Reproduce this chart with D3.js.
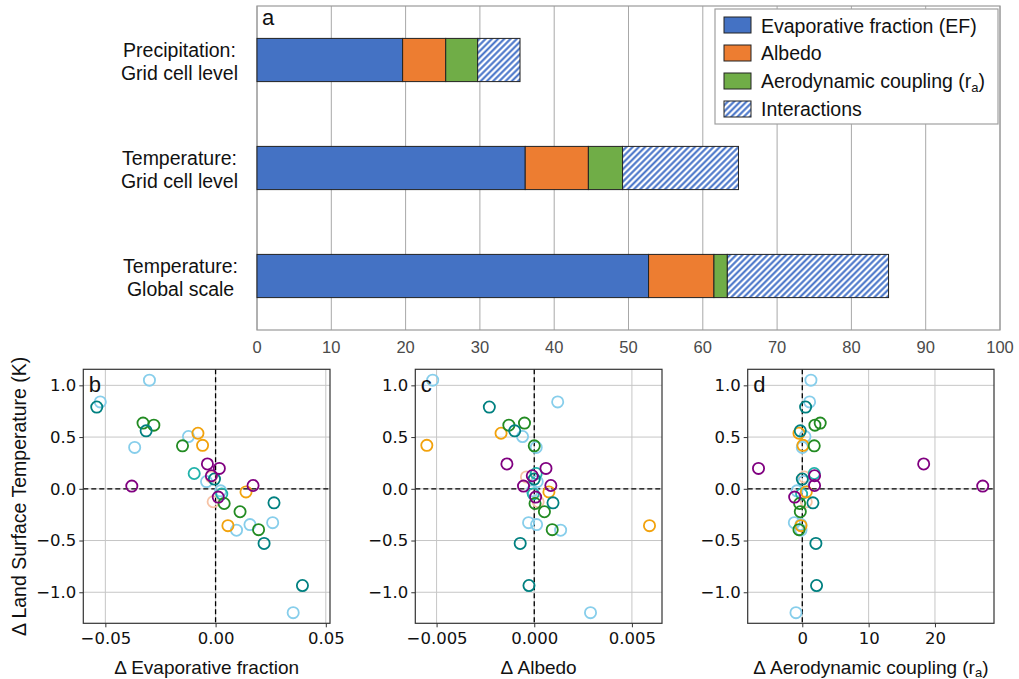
<!DOCTYPE html>
<html>
<head>
<meta charset="utf-8">
<script src="https://cdn.jsdelivr.net/npm/d3@7"></script>
<style>
  body { margin: 0; background: #fff; }
  svg { display: block; }
</style>
</head>
<body>
<svg id="fig" width="1019" height="679"></svg>
<script>
// ---- Panel a: contribution (%) of each driver, one value per bar row ----
const barCategories = [
  ["Precipitation:", "Grid cell level"],
  ["Temperature:", "Grid cell level"],
  ["Temperature:", "Global scale"]
];
const driverLabels = ["Evaporative fraction (EF)", "Albedo", "Aerodynamic coupling (r", "Interactions"];
const efShare = [19.6, 36.1, 52.7];
const albedoShare = [5.8, 8.5, 8.8];
const raShare = [4.3, 4.6, 1.8];
const interactionShare = [5.7, 15.6, 21.7];
const barTicks = [0, 10, 20, 30, 40, 50, 60, 70, 80, 90, 100];

// ---- Panels b-d: one circle per simulation pair ----
// group: 0 sky blue, 1 teal, 2 light sea green, 3 green, 4 orange, 5 purple, 6 peach
const pointGroup = [6, 6,
  0, 0, 0, 0, 0, 0, 0, 0, 0, 0,
  2, 2,
  4, 4, 4, 4,
  3, 3, 3, 3, 3, 3,
  1, 1, 1, 1, 1, 1,
  5, 5, 5, 5, 5, 5];
const dLST = [-0.125, 0.115,
  1.05, 0.84, 0.505, 0.40, 0.07, -0.02, -0.40, -0.346, -0.327, -1.197,
  0.148, -0.05,
  0.537, 0.42, -0.03, -0.356,
  0.635, 0.615, 0.415, -0.142, -0.222, -0.395,
  0.79, 0.56, 0.094, -0.136, -0.528, -0.935,
  0.24, 0.197, 0.126, 0.026, 0.032, -0.08];
const dEF = [-0.0011, -0.0020,
  -0.0300, -0.0523, -0.0123, -0.0367, -0.0041, 0.0023, 0.0095, 0.0156, 0.0259, 0.0352,
  -0.0097, 0.0028,
  -0.0080, -0.0059, 0.0138, 0.0056,
  -0.0329, -0.0280, -0.0150, 0.0039, 0.0111, 0.0195,
  -0.0539, -0.0315, -0.0005, 0.0265, 0.0220, 0.0394,
  -0.0037, 0.0017, -0.0019, -0.0380, 0.0170, 0.0012];
const dAlbedo = [0.0002, -0.0004,
  -0.0052, 0.0012, -0.0006, 0.0001, 0.00015, -0.0001, 0.00135, 0.00012, -0.00029, 0.00288,
  0.0001, -0.00005,
  -0.0017, -0.0055, 0.00075, 0.0059,
  -0.0005, -0.0013, 0.0000, 0.00004, 0.00052, 0.00092,
  -0.0023, -0.0010, 0.0000, 0.00096, -0.00072, -0.00027,
  -0.0014, 0.0006, -0.0001, -0.00055, 0.00085, 0.00007];
const dRa = [0.6, 0.3,
  1.3, 1.1, 0.4, 0.0, 0.2, -0.8, -0.2, -0.2, -1.2, -0.95,
  1.8, -0.1,
  -0.5, 0.1, 0.6, -0.2,
  2.7, 1.9, 1.8, -0.4, -0.3, -0.5,
  0.5, -0.3, 0.0, 1.6, 2.05, 2.15,
  18.3, -6.6, 1.85, 27.2, 1.85, -1.15];
const groupColors = ["#87CEEB", "#008080", "#20B2AA", "#228B22", "#F2A20C", "#800080", "#F6C3A6"];

const lstLimits = [-1.30, 1.155];
const lstTicks = [-1.0, -0.5, 0.0, 0.5, 1.0];
const efLimits = [-0.0600, 0.0519];
const efTicks = [-0.05, 0.0, 0.05];
const albedoLimits = [-0.00609, 0.00654];
const albedoTicks = [-0.005, 0.0, 0.005];
const raLimits = [-8.23, 28.9];
const raTicks = [0, 10, 20];

const SANS = "'Liberation Sans', Arial, Helvetica, sans-serif";
const DEJAVU = "'DejaVu Sans', sans-serif";
const svg = d3.select("#fig");

// ---------------- Panel a ----------------
const barColors = ["#4472C4", "#ED7D31", "#70AD47"];
const defs = svg.append("defs");
const hatchStep = 4.4;
const hatch = defs.append("pattern")
  .attr("id", "hatch").attr("patternUnits", "userSpaceOnUse")
  .attr("width", hatchStep).attr("height", hatchStep)
  .attr("patternTransform", "rotate(45)");
hatch.append("rect").attr("width", hatchStep).attr("height", hatchStep).attr("fill", "#fff");
hatch.append("line").attr("x1", 1.3).attr("x2", 1.3).attr("y1", 0).attr("y2", hatchStep)
  .attr("stroke", "#3F6EC6").attr("stroke-width", 2);

const ax = { left: 257, right: 1000, top: 6, bottom: 330 };
const xBar = d3.scaleLinear().domain([0, 100]).range([ax.left, ax.right]);
const yBar = d3.scaleBand().domain(d3.range(barCategories.length))
  .range([ax.top, ax.bottom]).paddingInner(0.6).paddingOuter(0.3);

const gA = svg.append("g");
// vertical grid
gA.selectAll("line.grid").data(barTicks).join("line")
  .attr("x1", d => xBar(d)).attr("x2", d => xBar(d))
  .attr("y1", ax.top).attr("y2", ax.bottom)
  .attr("stroke", "#a8a8a8").attr("stroke-width", 1);
// frame
gA.append("rect").attr("x", ax.left).attr("y", ax.top)
  .attr("width", ax.right - ax.left).attr("height", ax.bottom - ax.top)
  .attr("fill", "none").attr("stroke", "#9a9a9a").attr("stroke-width", 1.2);

// stacked segments
const stackRows = barCategories.map((c, i) => ({
  i, parts: [efShare[i], albedoShare[i], raShare[i], interactionShare[i]]
}));
stackRows.forEach(row => {
  let acc = 0;
  row.parts.forEach((v, k) => {
    gA.append("rect")
      .attr("x", xBar(acc)).attr("y", yBar(row.i))
      .attr("width", xBar(acc + v) - xBar(acc)).attr("height", yBar.bandwidth())
      .attr("fill", k < 3 ? barColors[k] : "url(#hatch)")
      .attr("stroke", "#222").attr("stroke-width", 1);
    acc += v;
  });
});

// tick labels
gA.selectAll("text.xt").data(barTicks).join("text")
  .attr("x", d => xBar(d)).attr("y", 352.5)
  .attr("text-anchor", "middle").attr("font-family", SANS).attr("font-size", 16.5)
  .attr("fill", "#4a4a4a").text(d => d);

// category labels (two centred lines, block right-aligned at the axis)
barCategories.forEach((lines, i) => {
  const cy = yBar(i) + yBar.bandwidth() / 2;
  const g = gA.append("g");
  const ts = lines.map((t, j) => g.append("text")
    .attr("y", cy - 3 + j * 23)
    .attr("font-family", SANS).attr("font-size", 19.5).attr("fill", "#111")
    .attr("text-anchor", "middle").text(t));
  const w = d3.max(ts, t => t.node().getComputedTextLength());
  ts.forEach(t => t.attr("x", 238 - w / 2));
});

gA.append("text").attr("x", 262).attr("y", 25).attr("font-family", SANS)
  .attr("font-size", 22).attr("fill", "#111").text("a");

// legend
const lg = gA.append("g");
lg.append("rect").attr("x", 715).attr("y", 9).attr("width", 283).attr("height", 115)
  .attr("fill", "#fff").attr("stroke", "#a0a0a0").attr("stroke-width", 1.2);
driverLabels.forEach((lab, k) => {
  const top = 17 + k * 28;
  lg.append("rect").attr("x", 724).attr("y", top).attr("width", 27).attr("height", 16)
    .attr("fill", k < 3 ? barColors[k] : "url(#hatch)")
    .attr("stroke", "#222").attr("stroke-width", 1);
  const t = lg.append("text").attr("x", 761).attr("y", top + 8 + 7 - (k === 0 ? -1 : 0))
    .attr("font-family", SANS).attr("font-size", 19.5).attr("fill", "#111").text(lab);
  if (k === 2) {
    t.append("tspan").attr("font-size", 13).attr("dy", 4).text("a");
    t.append("tspan").attr("dy", -4).text(")");
  }
});

// ---------------- Panels b-d ----------------
const sTop = 369.3, sBottom = 623.3;
const yS = d3.scaleLinear().domain(lstLimits).range([sBottom, sTop]);

const panels = [
  { left: 83.3, right: 330, limits: efLimits, ticks: efTicks, fmt: d3.format(".2f"),
    values: dEF, title: ["Δ Evaporative fraction"], letter: "b" },
  { left: 415.3, right: 662, limits: albedoLimits, ticks: albedoTicks, fmt: d3.format(".3f"),
    values: dAlbedo, title: ["Δ Albedo"], letter: "c" },
  { left: 747.7, right: 994, limits: raLimits, ticks: raTicks, fmt: d3.format("d"),
    values: dRa, title: ["Δ Aerodynamic coupling (r", "a", ")"], letter: "d" }
];

panels.forEach(p => {
  const xS = d3.scaleLinear().domain(p.limits).range([p.left, p.right]);
  const g = svg.append("g");
  // grid
  g.selectAll("line.gx").data(p.ticks).join("line")
    .attr("x1", d => xS(d)).attr("x2", d => xS(d)).attr("y1", sTop).attr("y2", sBottom)
    .attr("stroke", "#c6c6c6").attr("stroke-width", 1);
  g.selectAll("line.gy").data(lstTicks).join("line")
    .attr("x1", p.left).attr("x2", p.right).attr("y1", d => yS(d)).attr("y2", d => yS(d))
    .attr("stroke", "#c6c6c6").attr("stroke-width", 1);
  // zero lines
  g.append("line").attr("x1", xS(0)).attr("x2", xS(0)).attr("y1", sTop).attr("y2", sBottom)
    .attr("stroke", "#000").attr("stroke-width", 1.3).attr("stroke-dasharray", "5,3");
  g.append("line").attr("x1", p.left).attr("x2", p.right).attr("y1", yS(0)).attr("y2", yS(0))
    .attr("stroke", "#000").attr("stroke-width", 1.3).attr("stroke-dasharray", "5,3");

  // axes
  const xa = g.append("g").attr("transform", `translate(0,${sBottom})`)
    .call(d3.axisBottom(xS).tickValues(p.ticks).tickFormat(p.fmt).tickSize(4).tickPadding(5));
  const ya = g.append("g").attr("transform", `translate(${p.left},0)`)
    .call(d3.axisLeft(yS).tickValues(lstTicks).tickFormat(d3.format(".1f")).tickSize(4).tickPadding(3));
  [xa, ya].forEach(a => {
    a.select(".domain").remove();
    a.selectAll("line").attr("stroke", "#333").attr("stroke-width", 1);
    a.selectAll("text").attr("font-family", DEJAVU).attr("font-size", 16.5).attr("fill", "#111");
  });

  // markers
  g.selectAll("circle").data(d3.range(dLST.length)).join("circle")
    .attr("cx", i => xS(p.values[i])).attr("cy", i => yS(dLST[i]))
    .attr("r", 5.6).attr("fill", "none")
    .attr("stroke", i => groupColors[pointGroup[i]]).attr("stroke-width", 1.8);

  // frame
  g.append("rect").attr("x", p.left).attr("y", sTop)
    .attr("width", p.right - p.left).attr("height", sBottom - sTop)
    .attr("fill", "none").attr("stroke", "#333").attr("stroke-width", 1.2);

  g.append("text").attr("x", p.left + 5.5).attr("y", sTop + 22.5)
    .attr("font-family", SANS).attr("font-size", 22).attr("fill", "#111").text(p.letter);

  const tt = g.append("text").attr("x", (p.left + p.right) / 2).attr("y", 674)
    .attr("text-anchor", "middle").attr("font-family", SANS).attr("font-size", 19)
    .attr("fill", "#111").text(p.title[0]);
  if (p.title.length > 1) {
    tt.append("tspan").attr("font-size", 13).attr("dy", 3).text(p.title[1]);
    tt.append("tspan").attr("dy", -3).text(p.title[2]);
  }
});

svg.append("text").attr("transform", `translate(26,${(sTop + sBottom) / 2}) rotate(-90)`)
  .attr("text-anchor", "middle").attr("font-family", SANS).attr("font-size", 19.5)
  .attr("fill", "#111").text("Δ Land Surface Temperature (K)");
</script>
</body>
</html>
